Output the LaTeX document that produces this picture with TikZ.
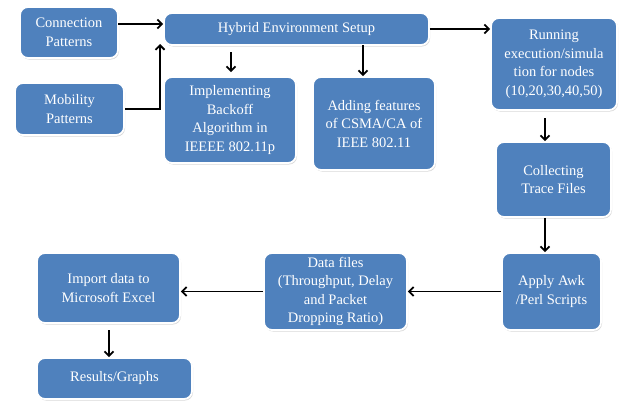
\documentclass[tikz,border=0pt]{standalone}
\usepackage{fontspec}
\setmainfont{Liberation Serif}
\usetikzlibrary{shadows,arrows.meta}
\definecolor{boxblue}{HTML}{4F81BD}
\tikzset{
  box/.style={rectangle, rounded corners=8pt, fill=boxblue, draw=white, line width=1.8pt,
    drop shadow={shadow xshift=1pt, shadow yshift=-1.5pt, opacity=0.3},
    text=white, align=center, inner sep=2pt,
    font=\fontsize{14.5}{18.5}\selectfont},
  arr/.style={-{Straight Barb[length=4.5pt,width=9pt,line width=1.8pt]}, line width=1.8pt, black}
}
\begin{document}
\begin{tikzpicture}[x=1pt,y=-1pt]
\useasboundingbox (0,0) rectangle (620,402);
\node[box, minimum width=98pt, minimum height=51pt] (conn) at (69,32.5) {Connection\\Patterns};
\node[box, minimum width=265pt, minimum height=32pt] (hyb) at (296.5,29) {Hybrid Environment Setup};
\node[box, minimum width=126pt, minimum height=92pt] (run) at (554,64) {Running\\execution/simula\\tion for nodes\\(10,20,30,40,50)};
\node[box, minimum width=109pt, minimum height=52pt] (mob) at (69.5,109) {Mobility\\Patterns};
\node[box, minimum width=132pt, minimum height=86pt] (impl) at (230,120) {Implementing\\Backoff\\Algorithm in\\IEEEE 802.11p};
\node[box, minimum width=122pt, minimum height=93pt] (add) at (374,123.5) {Adding features\\of CSMA/CA of\\IEEE 802.11};
\node[box, minimum width=115pt, minimum height=75pt] (coll) at (553.5,179.5) {Collecting\\Trace Files};
\node[box, minimum width=99pt, minimum height=77pt] (awk) at (551.5,291.5) {Apply Awk\\/Perl Scripts};
\node[box, minimum width=143pt, minimum height=77pt] (data) at (335.5,291.5) {Data files\\(Throughput, Delay\\and Packet\\Dropping Ratio)};
\node[box, minimum width=143pt, minimum height=70pt] (imp) at (108.5,288) {Import data to\\Microsoft Excel};
\node[box, minimum width=155pt, minimum height=41pt] (res) at (114.5,378.5) {Results/Graphs};

\coordinate (c1) at (118,24);
\coordinate (m2) at (160,44);
\coordinate (h1) at (231,52);
\coordinate (h2) at (363,45);
\coordinate (r1) at (545,118);
\coordinate (i1) at (109,330);

\draw[arr] (c1) -- (c1 -| hyb.west);
\draw[arr] (mob.east) -| (m2);
\draw[arr] (hyb.east) -- (hyb.east -| run.west);
\draw[arr, shorten >=4pt] (h1) -- (h1 |- impl.north);
\draw[arr] (h2) -- (h2 |- add.north);
\draw[arr] (r1) -- (r1 |- coll.north);
\draw[arr] (coll.south -| r1) -- (awk.north -| r1);
\draw[arr] (awk.west) -- (data.east);
\draw[arr] (data.west) -- (data.west -| imp.east);
\draw[arr] (i1) -- (i1 |- res.north);
\end{tikzpicture}
\end{document}
